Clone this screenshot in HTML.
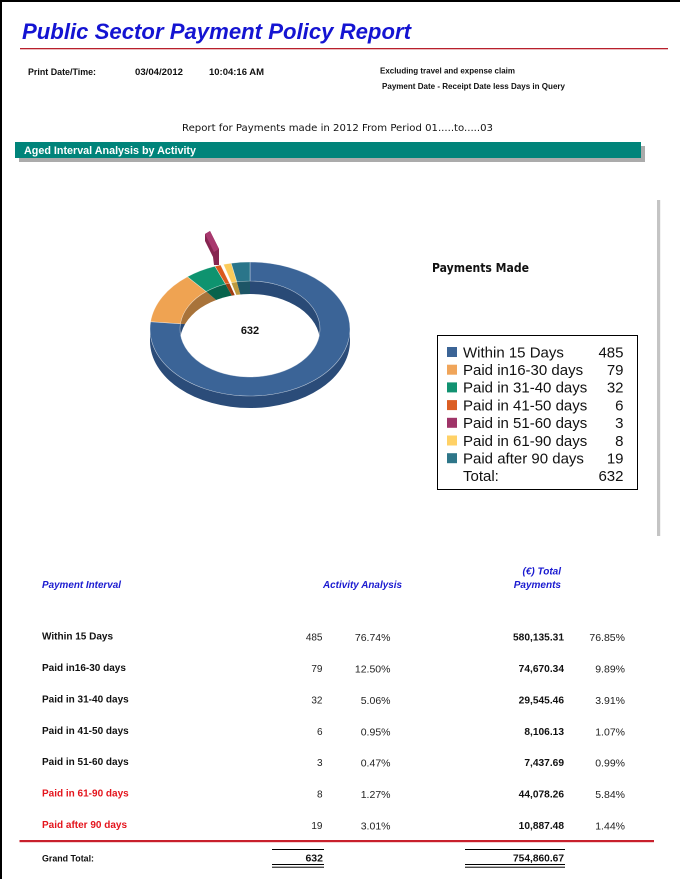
<!DOCTYPE html>
<html>
<head>
<meta charset="utf-8">
<style>
  html,body{margin:0;padding:0;background:#fff;}
  svg{display:block;}
  text{font-family:"Liberation Sans", Arial, sans-serif;}
  .c{font-family:"DejaVu Sans","Liberation Sans",sans-serif;}
</style>
</head>
<body>
<svg width="680" height="879" viewBox="0 0 680 879" xmlns="http://www.w3.org/2000/svg">
  <rect x="0" y="0" width="680" height="879" fill="#fff"/>
  <!-- frame -->
  <rect x="0" y="0" width="680" height="2" fill="#000"/>
  <rect x="0" y="0" width="2" height="879" fill="#000"/>

  <!-- title -->
  <text x="22" y="39" font-size="22" font-weight="bold" font-style="italic" fill="#1414d2" textLength="389" lengthAdjust="spacingAndGlyphs">Public Sector Payment Policy Report</text>
  <rect x="20" y="48" width="648" height="1.3" fill="#b8202c"/>

  <!-- header info -->
  <text x="28" y="75" font-size="8.8" font-weight="bold" fill="#111" textLength="68" lengthAdjust="spacingAndGlyphs">Print Date/Time:</text>
  <text x="135" y="75" font-size="8.8" font-weight="bold" fill="#111" textLength="48" lengthAdjust="spacingAndGlyphs">03/04/2012</text>
  <text x="209" y="75" font-size="8.8" font-weight="bold" fill="#111" textLength="55" lengthAdjust="spacingAndGlyphs">10:04:16 AM</text>
  <text x="380" y="73.5" font-size="8" font-weight="bold" fill="#111" textLength="135" lengthAdjust="spacingAndGlyphs">Excluding travel and expense claim</text>
  <text x="382" y="89" font-size="8" font-weight="bold" fill="#111" textLength="183" lengthAdjust="spacingAndGlyphs">Payment Date - Receipt  Date less Days in Query</text>

  <text class="c" x="182" y="131" font-size="10" fill="#111" textLength="311" lengthAdjust="spacingAndGlyphs">Report for Payments made in 2012 From Period 01.....to.....03</text>

  <!-- teal section bar -->
  <rect x="19" y="146" width="626" height="16" fill="#ababab"/>
  <rect x="15" y="142" width="626" height="16" fill="#00847a"/>
  <text x="24" y="154" font-size="10.7" font-weight="bold" fill="#fff" textLength="172" lengthAdjust="spacingAndGlyphs">Aged Interval Analysis by Activity</text>

  <!-- gray vertical bar -->
  <rect x="657" y="200" width="3.2" height="336" fill="#c4c4c4"/>

  <!-- donut -->
  <defs>
    <clipPath id="hole"><ellipse cx="250" cy="329" rx="70" ry="48"/></clipPath>
  </defs>
  <path d="M150,329 L150,341 A100,67 0 0 0 350,341 L350,329 A100,67 0 0 1 150,329 Z" fill="#2b4c79"/>
  <g>
    <path d="M250,329 L250,281 A70,48 0 1 1 180.42,323.76 Z" fill="#294a76"/>
    <path d="M250,329 L180.42,323.76 A70,48 0 0 1 206.22,291.55 Z" fill="#a8733a"/>
    <path d="M250,329 L206.22,291.55 A70,48 0 0 1 225.47,284.04 Z" fill="#07634c"/>
    <path d="M250,329 L225.47,284.04 A70,48 0 0 1 229.43,283.12 Z" fill="#a23e12"/>
    <path d="M250,329 L229.43,283.12 A70,48 0 0 1 231.43,282.72 Z" fill="#ffffff"/>
    <path d="M250,329 L231.43,282.72 A70,48 0 0 1 236.86,281.85 Z" fill="#be9a3e"/>
    <path d="M250,329 L236.86,281.85 A70,48 0 0 1 250,281 Z" fill="#1d5566"/>
  </g>
  <ellipse cx="250" cy="342" rx="70" ry="48" fill="#fff" clip-path="url(#hole)"/>
  <g stroke="rgba(255,255,255,0.55)" stroke-width="0.6">
    <path d="M250,262 A100,67 0 1 1 150.60,321.68 L180.42,323.76 A70,48 0 1 0 250,281 Z" fill="#3b6497"/>
    <path d="M150.60,321.68 A100,67 0 0 1 187.45,276.73 L206.22,291.55 A70,48 0 0 0 180.42,323.76 Z" fill="#efa352"/>
    <path d="M187.45,276.73 A100,67 0 0 1 214.96,266.25 L225.47,284.04 A70,48 0 0 0 206.22,291.55 Z" fill="#0e936f"/>
    <path d="M214.96,266.25 A100,67 0 0 1 220.61,264.96 L229.43,283.12 A70,48 0 0 0 225.47,284.04 Z" fill="#da5a1e"/>
    <path d="M223.48,264.40 A100,67 0 0 1 231.23,263.19 L236.86,281.85 A70,48 0 0 0 231.43,282.72 Z" fill="#fbcb5a"/>
    <path d="M231.23,263.19 A100,67 0 0 1 250,262 L250,281 A70,48 0 0 0 236.86,281.85 Z" fill="#2a758a"/>
  </g>
  <!-- exploded purple slice -->
  <polygon points="205,234 210,231 219,249 219,265 214,265 213,257 205,241" fill="#862550"/>
  <polygon points="205,234 210,231 219,249 214,252" fill="#a8386e"/>
  <text x="250" y="334" font-size="11" font-weight="bold" fill="#111" text-anchor="middle">632</text>

  <!-- chart title -->
  <text class="c" x="432" y="272" font-size="12" font-weight="bold" fill="#111" textLength="97" lengthAdjust="spacingAndGlyphs">Payments Made</text>

  <!-- legend -->
  <rect x="437.5" y="335.5" width="200" height="154" fill="#fff" stroke="#000" stroke-width="1"/>
  <g font-size="15" fill="#111">
    <rect x="447" y="347" width="10" height="10" fill="#3b6496"/>
    <text x="463" y="357.3">Within 15 Days</text><text x="623.5" y="357.3" text-anchor="end">485</text>
    <rect x="447" y="364.7" width="10" height="10" fill="#f0a55a"/>
    <text x="463" y="375">Paid in16-30 days</text><text x="623.5" y="375" text-anchor="end">79</text>
    <rect x="447" y="382.4" width="10" height="10" fill="#119271"/>
    <text x="463" y="392.7">Paid in 31-40 days</text><text x="623.5" y="392.7" text-anchor="end">32</text>
    <rect x="447" y="400.1" width="10" height="10" fill="#db5e24"/>
    <text x="463" y="410.4">Paid in 41-50 days</text><text x="623.5" y="410.4" text-anchor="end">6</text>
    <rect x="447" y="417.8" width="10" height="10" fill="#9f3468"/>
    <text x="463" y="428.1">Paid in 51-60 days</text><text x="623.5" y="428.1" text-anchor="end">3</text>
    <rect x="447" y="435.5" width="10" height="10" fill="#ffd166"/>
    <text x="463" y="445.8">Paid in 61-90 days</text><text x="623.5" y="445.8" text-anchor="end">8</text>
    <rect x="447" y="453.2" width="10" height="10" fill="#2e7689"/>
    <text x="463" y="463.5">Paid after 90 days</text><text x="623.5" y="463.5" text-anchor="end">19</text>
    <text x="463" y="481.2">Total:</text><text x="623.5" y="481.2" text-anchor="end">632</text>
  </g>

  <!-- table headers -->
  <g font-size="10" font-weight="bold" font-style="italic" fill="#1a1ad0">
    <text x="42" y="588" textLength="79" lengthAdjust="spacingAndGlyphs">Payment Interval</text>
    <text x="323" y="588" textLength="79" lengthAdjust="spacingAndGlyphs">Activity Analysis</text>
    <text x="561" y="574.5" text-anchor="end">(€) Total</text>
    <text x="561" y="588" text-anchor="end">Payments</text>
  </g>

  <!-- table rows -->
  <g font-size="10" font-weight="bold">
    <text x="42" y="639.5" fill="#111">Within 15 Days</text>
    <text x="42" y="671" fill="#111">Paid in16-30 days</text>
    <text x="42" y="702.5" fill="#111">Paid in 31-40 days</text>
    <text x="42" y="734" fill="#111">Paid in 41-50 days</text>
    <text x="42" y="765" fill="#111">Paid in 51-60 days</text>
    <text x="42" y="796.5" fill="#e4141c">Paid in 61-90 days</text>
    <text x="42" y="828" fill="#e4141c">Paid after 90 days</text>
  </g>
  <g font-size="10" fill="#222" text-anchor="end">
    <text x="322.5" y="640.5">485</text>
    <text x="322.5" y="672">79</text>
    <text x="322.5" y="703.5">32</text>
    <text x="322.5" y="735">6</text>
    <text x="322.5" y="766">3</text>
    <text x="322.5" y="797.5">8</text>
    <text x="322.5" y="829">19</text>
  </g>
  <g font-size="10.5" fill="#222" text-anchor="end">
    <text x="390.5" y="641">76.74%</text>
    <text x="390.5" y="672.5">12.50%</text>
    <text x="390.5" y="704">5.06%</text>
    <text x="390.5" y="735.5">0.95%</text>
    <text x="390.5" y="766.5">0.47%</text>
    <text x="390.5" y="798">1.27%</text>
    <text x="390.5" y="829.5">3.01%</text>
  </g>
  <g font-size="10.2" font-weight="bold" fill="#111" text-anchor="end">
    <text x="564" y="640.5">580,135.31</text>
    <text x="564" y="672">74,670.34</text>
    <text x="564" y="703.5">29,545.46</text>
    <text x="564" y="735">8,106.13</text>
    <text x="564" y="766">7,437.69</text>
    <text x="564" y="797.5">44,078.26</text>
    <text x="564" y="829">10,887.48</text>
  </g>
  <g font-size="10.5" fill="#222" text-anchor="end">
    <text x="625" y="641">76.85%</text>
    <text x="625" y="672.5">9.89%</text>
    <text x="625" y="704">3.91%</text>
    <text x="625" y="735.5">1.07%</text>
    <text x="625" y="766.5">0.99%</text>
    <text x="625" y="798">5.84%</text>
    <text x="625" y="829.5">1.44%</text>
  </g>

  <!-- red separator -->
  <rect x="19.5" y="840" width="634.5" height="2.2" fill="#c8202c"/>

  <!-- grand total -->
  <text x="42" y="861.5" font-size="8.8" font-weight="bold" fill="#111" textLength="52" lengthAdjust="spacingAndGlyphs">Grand Total:</text>
  <rect x="272" y="849" width="52" height="1" fill="#000"/>
  <text x="323" y="861.5" font-size="10.5" font-weight="bold" fill="#111" text-anchor="end">632</text>
  <rect x="272" y="864" width="52" height="1" fill="#000"/>
  <rect x="272" y="866.7" width="52" height="1" fill="#000"/>

  <rect x="465" y="849" width="100" height="1" fill="#000"/>
  <text x="564" y="861.5" font-size="10.2" font-weight="bold" fill="#111" text-anchor="end">754,860.67</text>
  <rect x="465" y="864" width="100" height="1" fill="#000"/>
  <rect x="465" y="866.7" width="100" height="1" fill="#000"/>
</svg>
</body>
</html>
